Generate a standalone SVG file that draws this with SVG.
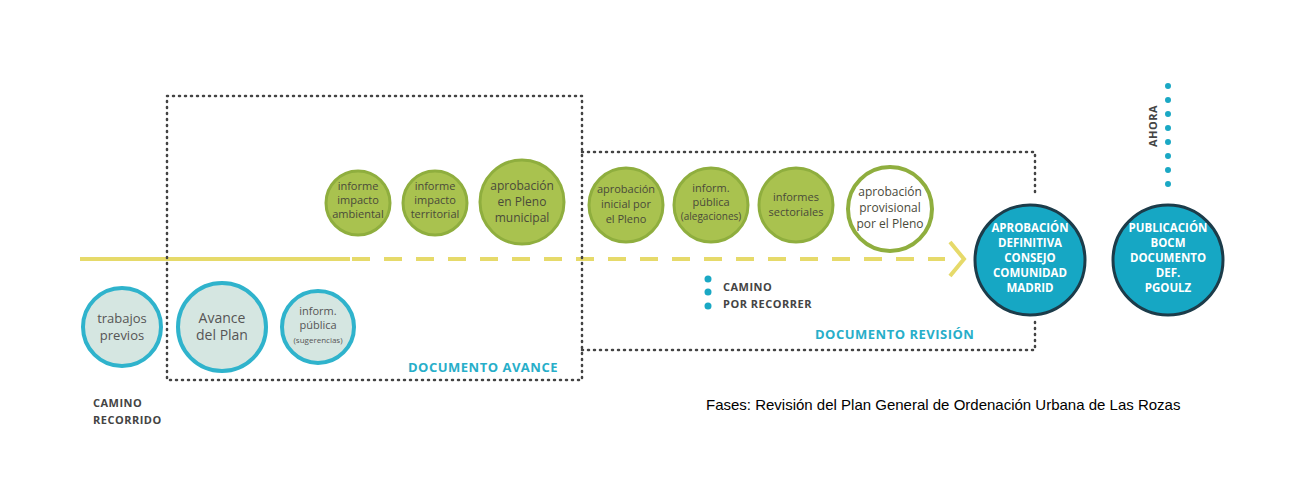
<svg xmlns="http://www.w3.org/2000/svg" width="1293" height="480" viewBox="0 0 1293 480">
<style>
text{font-family:"Open Sans","DejaVu Sans",sans-serif;text-anchor:middle}
.g circle{fill:#a9c24f;stroke:#8fae3e;stroke-width:3}
.g text{fill:#4a4a3a;font-size:12px}
.t circle{fill:#d5e6e1;stroke:#2fb3cc;stroke-width:4}
.t text{fill:#555;font-size:13px}
.b circle{fill:#16a7c4;stroke:#1c3c4a;stroke-width:3}
.b text{fill:#fff;font-size:11.5px;font-weight:bold}
.box{fill:none;stroke:#444;stroke-width:2.5;stroke-dasharray:1 5;stroke-linecap:round}
.lbl{fill:#27aec9;font-weight:bold;font-size:13px;text-anchor:start;letter-spacing:0.5px}
.dk{fill:#444;font-weight:bold;font-size:11px;text-anchor:start;letter-spacing:0.5px}
</style>
<rect width="1293" height="480" fill="#fff"/>
<g id="connectors">
<line x1="80" y1="259" x2="350" y2="259" stroke="#e6da6a" stroke-width="4"/>
<line x1="352" y1="259" x2="945" y2="259" stroke="#e6da6a" stroke-width="4" stroke-dasharray="18 14"/>
<polyline points="950,242 964,259 950,276" fill="none" stroke="#e6da6a" stroke-width="4"/>
<path class="box" d="M167 96H582V380H167Z"/>
<path class="box" d="M582 152H1035V195M1035 322V350H582"/>
<line x1="1168" y1="86" x2="1168" y2="188" stroke="#1aa8c4" stroke-width="6" stroke-dasharray="0 14" stroke-linecap="round"/>
<g fill="#1aa8c4"><circle cx="708" cy="279" r="3.5"/><circle cx="708" cy="292" r="3.5"/><circle cx="708" cy="306" r="3.5"/></g>
</g>
<g id="n1" class="t"><circle cx="122" cy="327" r="39"/><text x="122" y="323">trabajos</text><text x="122" y="340">previos</text></g>
<g id="n2" class="t"><circle cx="222" cy="327" r="44"/><text x="222" y="323" style="font-size:14px">Avance</text><text x="222" y="340" style="font-size:14px">del Plan</text></g>
<g id="n3" class="t"><circle cx="318" cy="327" r="36"/><text x="318" y="315" style="font-size:11px">inform.</text><text x="318" y="329" style="font-size:11px">pública</text><text x="318" y="343" style="font-size:8px">(sugerencias)</text></g>
<g id="n4" class="g"><circle cx="358" cy="203" r="32"/><text x="358" y="190" style="font-size:11px">informe</text><text x="358" y="204" style="font-size:11px">impacto</text><text x="358" y="218" style="font-size:11px">ambiental</text></g>
<g id="n5" class="g"><circle cx="435" cy="203" r="32"/><text x="435" y="190" style="font-size:11px">informe</text><text x="435" y="204" style="font-size:11px">impacto</text><text x="435" y="218" style="font-size:11px">territorial</text></g>
<g id="n6" class="g"><circle cx="522" cy="202" r="42"/><text x="522" y="190">aprobación</text><text x="522" y="206">en Pleno</text><text x="522" y="222">municipal</text></g>
<g id="n7" class="g"><circle cx="626" cy="205" r="37"/><text x="626" y="193" style="font-size:11px">aprobación</text><text x="626" y="208" style="font-size:11px">inicial por</text><text x="626" y="223" style="font-size:11px">el Pleno</text></g>
<g id="n8" class="g"><circle cx="711" cy="205" r="37"/><text x="711" y="192" style="font-size:11px">inform.</text><text x="711" y="206" style="font-size:11px">pública</text><text x="711" y="220" style="font-size:10px">(alegaciones)</text></g>
<g id="n9" class="g"><circle cx="796" cy="205" r="37"/><text x="796" y="201" style="font-size:11px">informes</text><text x="796" y="216" style="font-size:11px">sectoriales</text></g>
<g id="n10" class="g"><circle cx="890" cy="209" r="42" style="fill:#fff;stroke:#8fae3e;stroke-width:4"/><text x="890" y="196">aprobación</text><text x="890" y="212">provisional</text><text x="890" y="228">por el Pleno</text></g>
<g id="n11" class="b"><circle cx="1030" cy="260" r="55"/><text x="1030" y="232">APROBACIÓN</text><text x="1030" y="247">DEFINITIVA</text><text x="1030" y="262">CONSEJO</text><text x="1030" y="277">COMUNIDAD</text><text x="1030" y="292">MADRID</text></g>
<g id="n12" class="b"><circle cx="1168" cy="260" r="55"/><text x="1168" y="232">PUBLICACIÓN</text><text x="1168" y="247">BOCM</text><text x="1168" y="262">DOCUMENTO</text><text x="1168" y="277">DEF.</text><text x="1168" y="292">PGOULZ</text></g>
<text class="lbl" x="408" y="372">DOCUMENTO AVANCE</text>
<text class="lbl" x="815" y="339">DOCUMENTO REVISIÓN</text>
<text class="dk" x="93" y="407">CAMINO</text>
<text class="dk" x="93" y="424">RECORRIDO</text>
<text class="dk" x="723" y="291">CAMINO</text>
<text class="dk" x="723" y="308">POR RECORRER</text>
<text class="dk" transform="translate(1157,147) rotate(-90)">AHORA</text>
<text x="706" y="410" style="font-family:'Liberation Sans',Arial,sans-serif;font-size:15px;text-anchor:start;fill:#000">Fases: Revisión del Plan General de Ordenación Urbana de Las Rozas</text>
</svg>
